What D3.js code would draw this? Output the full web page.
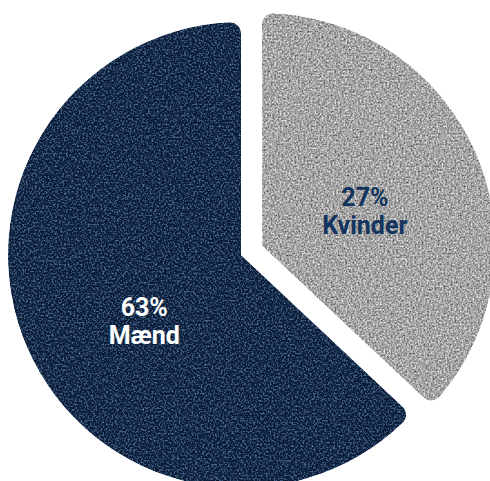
<!DOCTYPE html>
<meta charset="utf-8">
<style>
body { margin: 0; background: #fff; }
.chart text {
    font-family: Roboto, "DejaVu Sans", sans-serif;
    font-weight: 700;
    font-size: 25px;
    text-anchor: middle;
}
</style>
<body>
<svg class="chart js-chart"></svg>

<script src="https://cdn.jsdelivr.net/npm/d3@7"></script>
<script>
"use strict";

// slice order runs clockwise from 12 o'clock
var categories = ["Kvinder", "Mænd"];
var shares = [37, 63];              // angles as drawn in the picture
var percentLabels = ["27%", "63%"]; // text as printed in the picture
var exploded = [true, false];

var width = 490,
    height = 481,
    cx = 241,
    cy = 255,
    radius = 233,
    explodeBy = 23,
    labelRadius = 112;

var fills = ["#a3a3a3", "#08203f"],
    textColors = ["#13345e", "#ffffff"];

var svg = d3.select(".js-chart")
    .attr("width", width)
    .attr("height", height);

var defs = svg.append("defs");

// light and dark speckle on top of the flat fill
function addGrain(id, lightRgb, lightAmt, darkAmt, seed) {
    var f = defs.append("filter")
        .attr("id", id)
        .attr("x", "-5%").attr("y", "-5%")
        .attr("width", "110%").attr("height", "110%");
    f.append("feTurbulence")
        .attr("type", "fractalNoise")
        .attr("baseFrequency", 0.55)
        .attr("numOctaves", 2)
        .attr("seed", seed)
        .attr("result", "noise");
    f.append("feColorMatrix")
        .attr("in", "noise").attr("type", "matrix")
        .attr("values", "0 0 0 0 " + lightRgb[0] + "  0 0 0 0 " + lightRgb[1] + "  0 0 0 0 " + lightRgb[2] +
            "  " + lightAmt + " 0 0 0 " + (-lightAmt * 0.5))
        .attr("result", "light");
    f.append("feColorMatrix")
        .attr("in", "noise").attr("type", "matrix")
        .attr("values", "0 0 0 0 0  0 0 0 0 0  0 0 0 0 0  " + (-darkAmt) + " 0 0 0 " + (darkAmt * 0.5))
        .attr("result", "dark");
    var merge = f.append("feMerge").attr("result", "mixed");
    merge.append("feMergeNode").attr("in", "SourceGraphic");
    merge.append("feMergeNode").attr("in", "light");
    merge.append("feMergeNode").attr("in", "dark");
    f.append("feComposite")
        .attr("in", "mixed").attr("in2", "SourceGraphic").attr("operator", "in");
}

addGrain("grain-0", [1, 1, 1], 2.2, 2.4, 4);
addGrain("grain-1", [0.14, 0.3, 0.55], 1.8, 2.0, 7);

var data = categories.map(function(c, i) {
    return { category: c, share: shares[i], label: percentLabels[i], exploded: exploded[i], i: i };
});

var pie = d3.pie().sort(null).value(function(d) { return d.share; });

var arc = d3.arc()
    .innerRadius(0)
    .outerRadius(radius)
    .cornerRadius(11);

var labelArc = d3.arc()
    .innerRadius(labelRadius)
    .outerRadius(labelRadius);

var main = svg.append("g")
    .attr("transform", "translate(" + cx + "," + cy + ")");

var slices = main.selectAll(".slice")
    .data(pie(data))
    .enter().append("g")
    .attr("class", "slice")
    .attr("transform", function(d) {
        if (!d.data.exploded) return null;
        var mid = (d.startAngle + d.endAngle) / 2;
        return "translate(" + (Math.sin(mid) * explodeBy) + "," + (-Math.cos(mid) * explodeBy) + ")";
    });

slices.append("path")
    .attr("d", arc)
    .attr("fill", function(d) { return fills[d.data.i]; })
    .attr("filter", function(d) { return "url(#grain-" + d.data.i + ")"; });

var labels = slices.append("text")
    .attr("transform", function(d) {
        var c = labelArc.centroid(d);
        var dx = d.data.exploded ? 0 : 6,
            dy = d.data.exploded ? -8 : 4;
        return "translate(" + (c[0] + dx) + "," + (c[1] + dy) + ")";
    })
    .attr("fill", function(d) { return textColors[d.data.i]; });

labels.append("tspan")
    .attr("x", 0).attr("y", 13)
    .text(function(d) { return d.data.label; });

labels.append("tspan")
    .attr("x", 0).attr("y", 41)
    .text(function(d) { return d.data.category; });

</script>
</body>
